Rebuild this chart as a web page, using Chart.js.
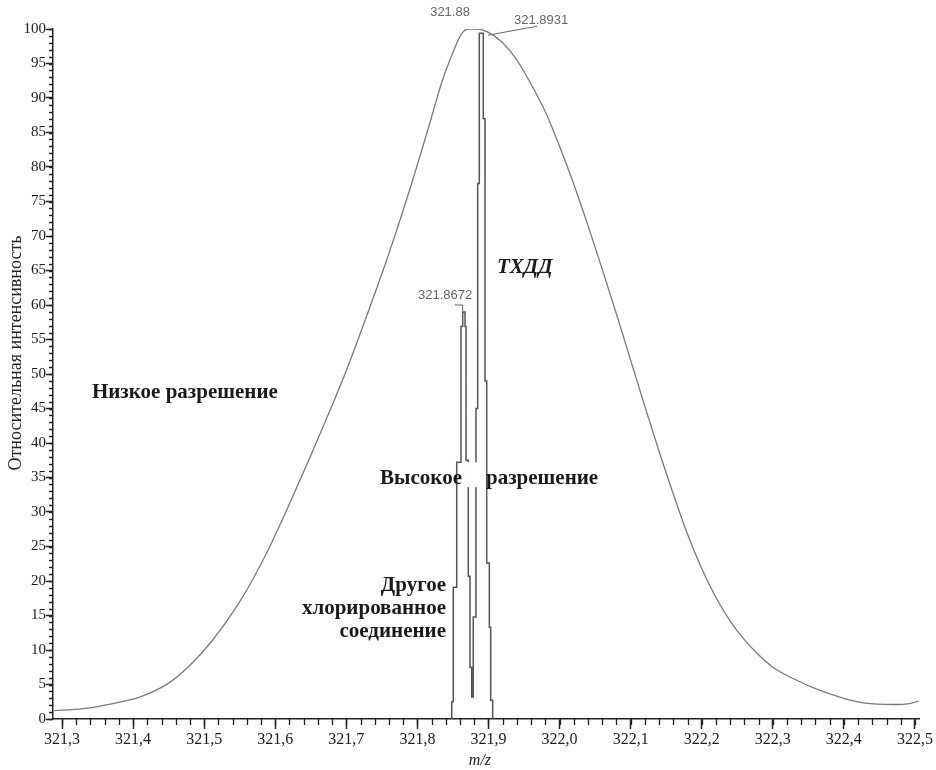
<!DOCTYPE html>
<html lang="ru">
<head>
<meta charset="UTF-8">
<title>Низкое и высокое разрешение</title>
<script src="https://cdn.jsdelivr.net/npm/chart.js"></script>
<style>
  html, body { margin: 0; padding: 0; background: #fff; }
  #wrap { width: 936px; height: 770px; }
</style>
</head>
<body>
<div id="wrap"><canvas id="spectrum" width="936" height="770"></canvas></div>
<script>
// Данные
const xMin = 321.2873;
const xMax = 322.5057;

// низкое разрешение (широкий пик)
const lowResX = [321.288, 321.33, 321.37, 321.41, 321.45, 321.48, 321.51, 321.55, 321.59, 321.63, 321.67, 321.70, 321.73, 321.76, 321.79, 321.815, 321.835, 321.85, 321.862, 321.872, 321.884, 321.90, 321.92, 321.94, 321.96, 321.98, 322.00, 322.02, 322.04, 322.06, 322.08, 322.10, 322.12, 322.14, 322.16, 322.18, 322.20, 322.22, 322.24, 322.26, 322.28, 322.30, 322.33, 322.36, 322.40, 322.43, 322.47, 322.49, 322.505];
const lowResY = [1.2, 1.5, 2.2, 3.2, 5.2, 7.8, 11.2, 17, 24.5, 33.5, 43, 50.5, 58.8, 67.5, 77, 85.5, 92.5, 96.6, 99.3, 100, 100, 99.5, 98, 95.5, 92, 88, 83, 77.5, 71.5, 65.2, 58.7, 52, 45.3, 38.8, 32.6, 26.8, 21.8, 17.6, 14.2, 11.5, 9.3, 7.5, 5.8, 4.4, 3.0, 2.3, 2.1, 2.2, 2.6];

// высокое разрешение (два узких пика, ступенчатый профиль)
const hiResX = [321.8483, 321.8483, 321.8505, 321.8553, 321.8613, 321.8637, 321.8670, 321.8684, 321.8716, 321.8740, 321.8764, 321.8786, 321.8824, 321.8848, 321.8871, 321.8902, 321.8927, 321.8951, 321.8975, 321.9012, 321.9031, 321.9059];
const hiResY = [0, 2.5, 19.1, 37.2, 56.9, 59, 56.9, 37.5, 20.7, 7.5, 3.2, 14.8, 45, 77.6, 99.4, 99.4, 87, 49, 22.6, 13.3, 2.7, 0];

// деления осей
const xMajorTicks = [321.3, 321.4, 321.5, 321.6, 321.7, 321.8, 321.9, 322.0, 322.1, 322.2, 322.3, 322.4, 322.5];
const yMajorTicks = [0, 5, 10, 15, 20, 25, 30, 35, 40, 45, 50, 55, 60, 65, 70, 75, 80, 85, 90, 95, 100];
const xMinorStep = 0.02;
const yMinorStep = 1;

const serif = '"Liberation Serif", "Times New Roman", serif';
Chart.defaults.font.family = serif;

const toPoints = (xs, ys) => xs.map((v, i) => ({ x: v, y: ys[i] }));

// подписи, минорные деления, выноски
const annotations = {
    id: 'annotations',
    afterDatasetsDraw(chart) {
        const { ctx, chartArea, scales: { x, y } } = chart;
        const px = v => x.getPixelForValue(v);
        const py = v => y.getPixelForValue(v);
        ctx.save();

        // минорные деления
        ctx.strokeStyle = '#222';
        ctx.lineWidth = 1.3;
        ctx.beginPath();
        for (let v = 321.3; v <= 322.5001; v += xMinorStep) {
            const p = Math.round(px(v)) + 0.5;
            ctx.moveTo(p, chartArea.bottom);
            ctx.lineTo(p, chartArea.bottom + 6);
        }
        for (let v = 0; v <= 100; v += yMinorStep) {
            const p = Math.round(py(v)) + 0.5;
            ctx.moveTo(chartArea.left, p);
            ctx.lineTo(chartArea.left - 4, p);
        }
        ctx.stroke();

        // белый просвет между словами
        ctx.fillStyle = '#fff';
        ctx.fillRect(px(321.8698), py(37.2), px(321.8951) - px(321.8698), py(33.6) - py(37.2));

        // выноски меток пиков
        ctx.strokeStyle = '#666';
        ctx.lineWidth = 1;
        ctx.beginPath();
        ctx.moveTo(px(321.8993), py(99.1));
        ctx.lineTo(px(321.9683), py(100.4));
        ctx.moveTo(px(321.8637), py(59));
        ctx.lineTo(px(321.8637), py(60.0));
        ctx.lineTo(px(321.8525), py(60.0));
        ctx.stroke();

        // метки пиков
        ctx.fillStyle = '#666';
        ctx.font = '13px "Liberation Sans", Arial, sans-serif';
        ctx.textBaseline = 'alphabetic';
        ctx.textAlign = 'center';
        ctx.fillText('321.88', px(321.8459), py(101.9));
        ctx.textAlign = 'left';
        ctx.fillText('321.8931', px(321.9359), py(100.7));
        ctx.fillText('321.8672', px(321.8008), py(60.9));

        // надписи
        ctx.fillStyle = '#1a1a1a';
        ctx.font = 'bold 21px ' + serif;
        ctx.textAlign = 'left';
        ctx.fillText('Низкое разрешение', px(321.342), py(46.5));
        ctx.fillText('разрешение', px(321.8965), py(34.06));
        ctx.textAlign = 'right';
        ctx.fillText('Высокое', px(321.8627), py(34.06));
        ctx.fillText('Другое', px(321.8402), py(18.55));
        ctx.fillText('хлорированное', px(321.8402), py(15.22));
        ctx.fillText('соединение', px(321.8402), py(11.88));
        ctx.textAlign = 'left';
        ctx.font = 'italic bold 21px ' + serif;
        ctx.fillText('ТХДД', px(321.912), py(64.6));

        // названия осей
        ctx.font = 'italic 16px ' + serif;
        ctx.textAlign = 'center';
        ctx.fillStyle = '#222';
        ctx.fillText('m/z', px(321.888), 765);
        ctx.save();
        ctx.translate(21, 353);
        ctx.rotate(-Math.PI / 2);
        ctx.font = '18px ' + serif;
        ctx.fillText('Относительная интенсивность', 0, 0);
        ctx.restore();

        ctx.restore();
    }
};

new Chart(document.getElementById('spectrum'), {
    type: 'line',
    data: {
        datasets: [{
            label: 'Низкое разрешение',
            data: toPoints(lowResX, lowResY),
            borderColor: '#7a7a7a',
            borderWidth: 1.3,
            pointRadius: 0,
            cubicInterpolationMode: 'monotone',
            fill: false
        }, {
            label: 'Высокое разрешение',
            data: toPoints(hiResX, hiResY),
            borderColor: '#555',
            borderWidth: 1.5,
            pointRadius: 0,
            stepped: 'before',
            fill: false
        }]
    },
    options: {
        responsive: false,
        animation: false,
        devicePixelRatio: 1,
        layout: { padding: { left: 0, top: 29, right: 17, bottom: 0 } },
        plugins: { legend: { display: false }, tooltip: { enabled: false } },
        scales: {
            x: {
                type: 'linear',
                min: xMin,
                max: xMax,
                afterBuildTicks: s => { s.ticks = xMajorTicks.map(v => ({ value: v })); },
                afterFit: s => { s.height = 51; },
                grid: { display: true, drawOnChartArea: false, tickLength: 10, tickColor: '#222', tickWidth: 1.5 },
                border: { display: true, color: '#222', width: 1.5 },
                ticks: {
                    autoSkip: false,
                    maxRotation: 0,
                    padding: 1,
                    color: '#1a1a1a',
                    font: { size: 16, family: serif },
                    callback: v => v.toFixed(1).replace('.', ',')
                }
            },
            y: {
                min: 0,
                max: 100,
                afterBuildTicks: s => { s.ticks = yMajorTicks.map(v => ({ value: v })); },
                afterFit: s => { s.width = 53; },
                grid: { display: true, drawOnChartArea: false, tickLength: 7, tickColor: '#222', tickWidth: 1.5 },
                border: { display: true, color: '#222', width: 1.5 },
                ticks: {
                    autoSkip: false,
                    padding: 0,
                    color: '#1a1a1a',
                    font: { size: 15, family: serif },
                    callback: v => String(v)
                }
            }
        }
    },
    plugins: [annotations]
});
</script>
</body>
</html>
